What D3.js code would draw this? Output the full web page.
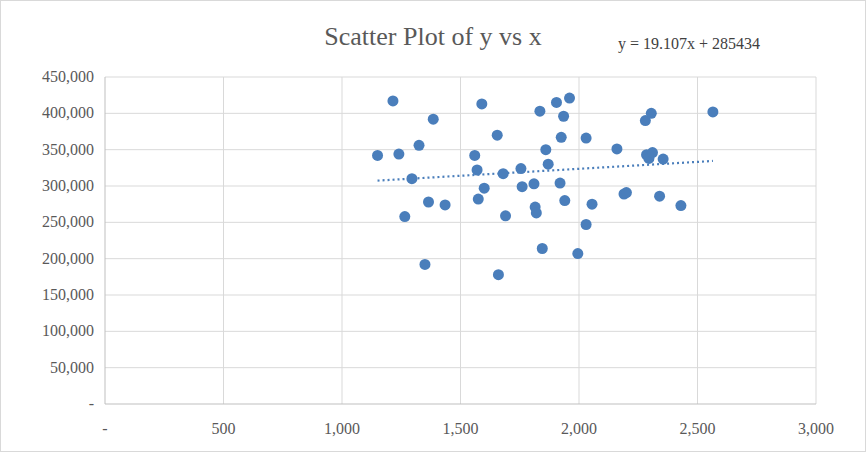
<!DOCTYPE html>
<html><head><meta charset="utf-8">
<script src="https://cdn.jsdelivr.net/npm/d3@7"></script>
<style>body{margin:0;background:#fff}text{font-family:"Liberation Serif","DejaVu Serif",serif;fill:#595959}</style>
</head><body><svg id="c" width="866" height="452"></svg>
<script>
const xs = [1150,1215,1240,1265,1295,1325,1350,1365,1385,1435,1560,1570,1575,1590,1600,1655,1660,1680,1690,1755,1760,1810,1815,1820,1835,1845,1860,1870,1905,1920,1925,1935,1940,1960,1995,2030,2030,2055,2160,2190,2200,2280,2285,2295,2305,2310,2340,2355,2430,2565];
const ys = [342000,417000,344000,258000,310000,356000,192000,278000,392000,274000,342000,322000,282000,413000,297000,370000,178000,317000,259000,324000,299000,303000,271000,263000,403000,214000,350000,330000,415000,304000,367000,396000,280000,421000,207000,366000,247000,275000,351000,289000,291000,390000,343000,338000,400000,346000,286000,337000,273000,402000];
const slope = 19.107, intercept = 285434;
const xTicks = [0,500,1000,1500,2000,2500,3000];
const yTicks = d3.range(0,450001,50000);

const svg = d3.select("#c");
svg.append("rect").attr("x",0.5).attr("y",0.5).attr("width",865).attr("height",451).attr("fill","#fff").attr("stroke","#d9d9d9");
const x = d3.scaleLinear().domain([0,3000]).range([105,816]);
const y = d3.scaleLinear().domain([0,450000]).range([404,77]);
const fmt = v => v===0 ? "-" : d3.format(",")(v);

svg.append("g").selectAll("line").data(yTicks.slice(1)).join("line")
  .attr("x1",x(0)).attr("x2",x(3000)).attr("y1",d=>y(d)).attr("y2",d=>y(d)).attr("stroke","#d9d9d9");
svg.append("g").selectAll("line").data(xTicks.slice(1)).join("line")
  .attr("y1",y(0)).attr("y2",y(450000)).attr("x1",d=>x(d)).attr("x2",d=>x(d)).attr("stroke","#d9d9d9");
svg.append("line").attr("x1",x(0)).attr("x2",x(3000)).attr("y1",y(0)).attr("y2",y(0)).attr("stroke","#bfbfbf");
svg.append("line").attr("x1",x(0)).attr("x2",x(0)).attr("y1",y(0)).attr("y2",y(450000)).attr("stroke","#bfbfbf");

svg.append("g").selectAll("text").data(yTicks).join("text")
  .attr("x",94).attr("y",d=>y(d)+5).attr("text-anchor","end").attr("font-size",16).text(fmt);
svg.append("g").selectAll("text").data(xTicks).join("text")
  .attr("x",d=>x(d)).attr("y",434).attr("text-anchor","middle").attr("font-size",16).text(fmt);

const x0 = d3.min(xs), x1 = d3.max(xs);
svg.append("line").attr("x1",x(x0)).attr("x2",x(x1))
  .attr("y1",y(slope*x0+intercept)).attr("y2",y(slope*x1+intercept))
  .attr("stroke","#4a7ebb").attr("stroke-width",2.2).attr("stroke-dasharray","2,3");

svg.append("g").selectAll("circle").data(xs.map((v,i)=>[v,ys[i]])).join("circle")
  .attr("cx",d=>x(d[0])).attr("cy",d=>y(d[1])).attr("r",5.5).attr("fill","#4a7ebb");

svg.append("text").attr("x",433).attr("y",45).attr("text-anchor","middle").attr("font-size",26).text("Scatter Plot of y vs x");
svg.append("text").attr("x",618).attr("y",49).attr("font-size",16).style("fill","#404040").text("y = 19.107x + 285434");
</script></body></html>
